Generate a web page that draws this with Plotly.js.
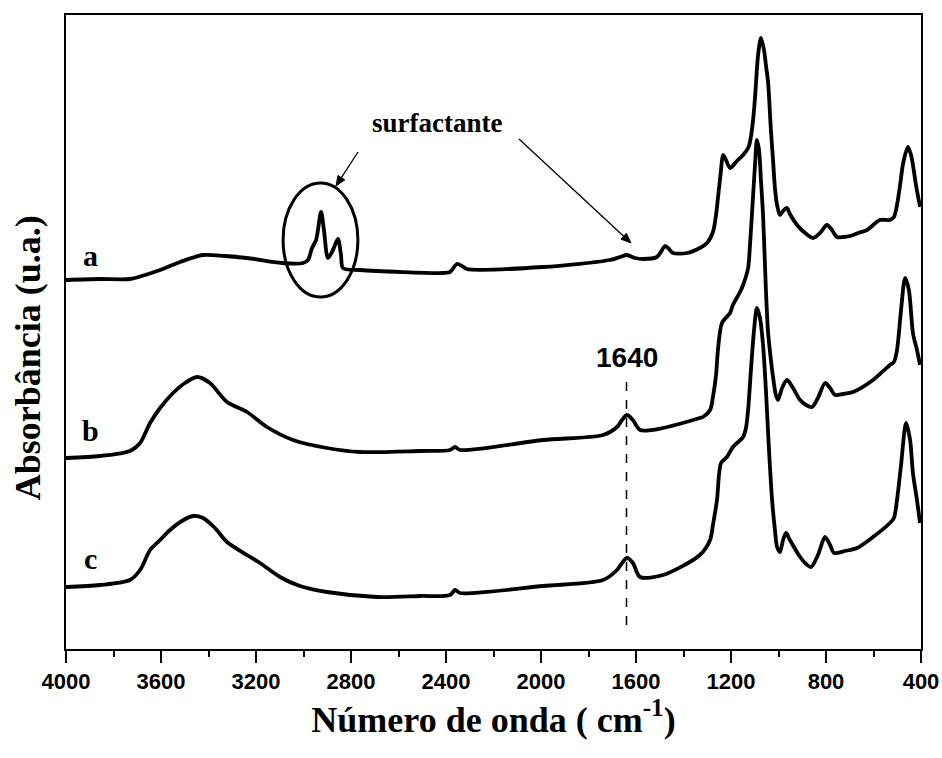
<!DOCTYPE html>
<html>
<head>
<meta charset="utf-8">
<script src="https://cdn.plot.ly/plotly-3.0.1.min.js"></script>
<style>html,body{margin:0;padding:0;background:#fff;}#chart{width:942px;height:758px;}</style>
</head>
<body>
<div id="chart"></div>
<script>
// Wavenumbers (cm-1) and absorbance (a.u., offset)
const wnA = [4000,3857,3731,3667,3604,3520,3423,3331,3238,3091,3002,2981,2964,2947,2926,2914,2897,2876,2855,2842,2834,2762,2413,2383,2354,2333,2312,1992,1710,1667,1638,1604,1571,1512,1495,1478,1461,1444,1385,1331,1301,1276,1263,1255,1242,1234,1221,1204,1175,1149,1128,1120,1107,1099,1086,1074,1061,1053,1044,1032,1023,1015,1006,994,981,964,952,922,888,855,825,796,775,754,728,699,665,627,573,531,514,501,488,475,455,442,434,421,404];
const absA = [3.69,3.70,3.70,3.74,3.79,3.87,3.94,3.93,3.91,3.86,3.86,3.89,4.01,4.09,4.37,4.19,3.91,3.99,4.10,3.94,3.81,3.79,3.76,3.77,3.85,3.83,3.80,3.82,3.89,3.92,3.94,3.91,3.90,3.92,3.97,4.03,4.00,3.96,3.96,4.01,4.06,4.17,4.34,4.51,4.79,4.94,4.89,4.81,4.88,4.94,5.01,5.07,5.29,5.51,5.94,6.11,5.99,5.84,5.67,5.19,4.89,4.61,4.44,4.34,4.38,4.41,4.35,4.24,4.16,4.11,4.16,4.24,4.19,4.12,4.12,4.13,4.16,4.19,4.29,4.29,4.32,4.44,4.64,4.86,5.02,4.94,4.84,4.64,4.42];

const wnB = [4000,3857,3731,3688,3646,3604,3549,3499,3448,3394,3322,3238,3154,3044,2901,2762,2509,2383,2362,2341,1992,1739,1680,1659,1638,1613,1583,1486,1331,1318,1288,1276,1263,1255,1238,1204,1192,1162,1149,1128,1120,1112,1099,1091,1082,1074,1065,1053,1044,1032,1023,1011,1002,985,964,939,909,884,859,834,804,783,762,728,686,602,531,514,501,484,467,451,434,417,404];
const absB = [1.91,1.93,1.98,2.06,2.26,2.41,2.56,2.66,2.72,2.66,2.47,2.37,2.22,2.09,2.01,1.97,1.98,1.99,2.02,1.99,2.09,2.14,2.22,2.29,2.34,2.29,2.19,2.21,2.31,2.32,2.39,2.52,2.74,2.99,3.26,3.36,3.44,3.57,3.64,3.81,4.04,4.34,4.84,5.09,4.99,4.69,4.34,3.59,3.17,2.89,2.72,2.54,2.49,2.61,2.69,2.61,2.49,2.44,2.42,2.51,2.66,2.61,2.54,2.55,2.57,2.69,2.84,2.87,2.99,3.39,3.71,3.59,3.16,2.99,2.84];

const wnC = [4000,3857,3731,3688,3646,3604,3562,3512,3465,3423,3373,3322,3238,3183,3099,3015,2901,2691,2509,2383,2362,2341,1992,1739,1680,1659,1638,1613,1583,1486,1331,1288,1276,1259,1242,1217,1192,1149,1137,1128,1116,1103,1091,1078,1065,1053,1040,1027,1015,1006,994,981,968,952,909,884,863,834,804,783,766,720,669,602,531,514,501,484,463,446,434,417,404];
const absC = [0.62,0.64,0.69,0.79,0.99,1.09,1.19,1.28,1.33,1.31,1.21,1.07,0.94,0.86,0.72,0.63,0.57,0.52,0.53,0.54,0.59,0.56,0.63,0.69,0.79,0.86,0.91,0.86,0.72,0.74,0.94,1.09,1.24,1.49,1.86,1.92,2.02,2.12,2.21,2.39,2.79,3.19,3.41,3.31,3.04,2.59,1.99,1.49,1.19,1.02,0.97,1.09,1.16,1.09,0.92,0.85,0.82,0.94,1.12,1.04,0.96,0.98,1.01,1.12,1.26,1.31,1.49,1.84,2.26,2.09,1.76,1.49,1.26];

const seriesNames = ['a','b','c'];
const markerWn = 1640;

const lineStyle = {color:'#000', width:3.8, shape:'spline', smoothing:0.8};
const traces = [
  {x:wnA, y:absA, mode:'lines', line:lineStyle, name:seriesNames[0], hoverinfo:'skip'},
  {x:wnB, y:absB, mode:'lines', line:lineStyle, name:seriesNames[1], hoverinfo:'skip'},
  {x:wnC, y:absC, mode:'lines', line:lineStyle, name:seriesNames[2], hoverinfo:'skip'}
];

const serif = 'Liberation Serif, Times New Roman, serif';
const sans = 'Liberation Sans, Arial, sans-serif';

const layout = {
  width:942, height:758,
  margin:{l:66, r:21, t:15, b:109},
  paper_bgcolor:'#fff', plot_bgcolor:'#fff',
  showlegend:false,
  xaxis:{
    range:[4000,400], dtick:400, tick0:400,
    ticks:'outside', ticklen:12, tickwidth:2, tickcolor:'#000',
    minor:{dtick:200, tick0:400, ticks:'outside', ticklen:6, tickwidth:2, tickcolor:'#000'},
    showline:true, linecolor:'#000', linewidth:2, mirror:true,
    showgrid:false, zeroline:false,
    tickfont:{family:sans, size:22, color:'#000', weight:'bold'},
    title:{text:'<b>Número de onda ( cm<sup>-1</sup>)</b>', font:{family:serif, size:36, color:'#000'}, standoff:12}
  },
  yaxis:{
    range:[0,6.34],
    showticklabels:false, ticks:'',
    showline:true, linecolor:'#000', linewidth:2, mirror:true,
    showgrid:false, zeroline:false
  },
  shapes:[
    {type:'circle', xref:'x', yref:'y', x0:3086, x1:2771, y0:3.52, y1:4.66, line:{color:'#000', width:3}},
    {type:'line', xref:'x', yref:'y', x0:markerWn, x1:markerWn, y0:0.24, y1:2.71, line:{color:'#000', width:1.5, dash:'dash'}},
    // arrow 1 (to the circled bands)
    {type:'line', xref:'x', yref:'y', x0:2770.5, y0:4.97, x1:2840.4, y1:4.714, line:{color:'#000', width:1.3}},
    {type:'path', xref:'x', yref:'y', path:'M 2863.2 4.63 L 2826.1 4.692 L 2854.7 4.736 Z', fillcolor:'#000', line:{color:'#000', width:1}},
    // arrow 2 (to the 1480 band)
    {type:'line', xref:'x', yref:'y', x0:2092.6, y0:5.10, x1:1651.9, y1:4.128, line:{color:'#000', width:1.3}},
    {type:'path', xref:'x', yref:'y', path:'M 1621.1 4.06 L 1663.4 4.099 L 1640.5 4.157 Z', fillcolor:'#000', line:{color:'#000', width:1}}
  ],
  annotations:[
    {x:-0.0445, y:0.46, xref:'paper', yref:'paper', text:'<b>Absorbância (u.a.)</b>', textangle:-90, showarrow:false, xanchor:'center', yanchor:'middle', font:{family:serif, size:36, color:'#000'}},
    {x:3895, y:3.94, xref:'x', yref:'y', text:'<b>a</b>', showarrow:false, font:{family:serif, size:30, color:'#000'}},
    {x:3895, y:2.19, xref:'x', yref:'y', text:'<b>b</b>', showarrow:false, font:{family:serif, size:30, color:'#000'}},
    {x:3895, y:0.91, xref:'x', yref:'y', text:'<b>c</b>', showarrow:false, font:{family:serif, size:30, color:'#000'}},
    {x:2438, y:5.26, xref:'x', yref:'y', text:'<b>surfactante</b>', showarrow:false, font:{family:serif, size:27, color:'#000'}},
    {x:markerWn, y:2.92, xref:'x', yref:'y', text:'<b>1640</b>', showarrow:false, font:{family:sans, size:28, color:'#000'}}
  ]
};

Plotly.newPlot('chart', traces, layout, {displayModeBar:false, staticPlot:true});
</script>
</body>
</html>
